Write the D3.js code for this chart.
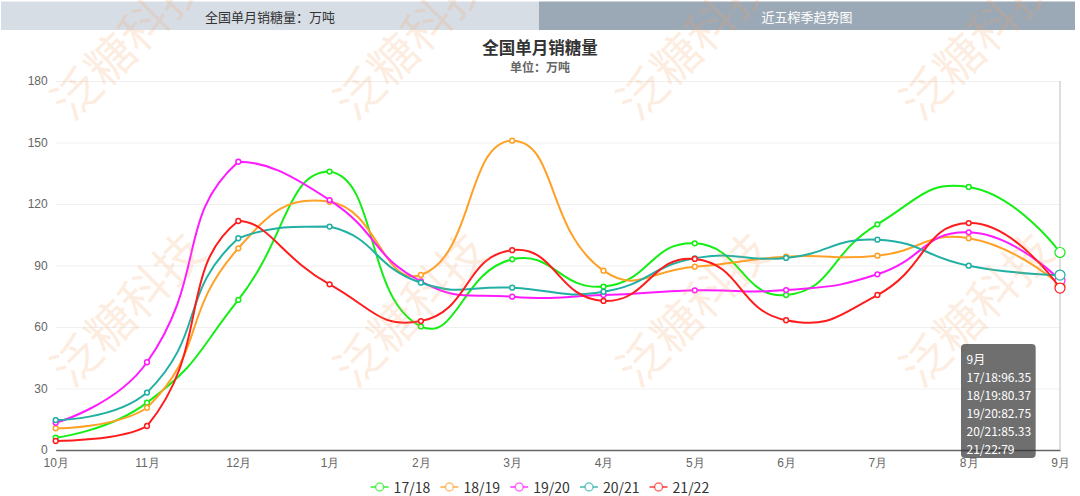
<!DOCTYPE html>
<html lang="zh">
<head>
<meta charset="UTF-8">
<title>全国单月销糖量</title>
<script src="https://d3js.org/d3.v7.min.js"></script>
<style>
  body { margin: 0; background: #fff; }
  svg { display: block; font-family: "Microsoft YaHei", "Noto Sans CJK SC", sans-serif; }
</style>
</head>
<body>
<svg id="chart" width="1080" height="496"></svg>
<script>
// data
const months = ["10月", "11月", "12月", "1月", "2月", "3月", "4月", "5月", "6月", "7月", "8月", "9月"];
const seasons = ["17/18", "18/19", "19/20", "20/21", "21/22"];
const s1718 = [6.0, 23.1, 73.2, 135.8, 60.3, 93.0, 79.7, 100.8, 75.6, 110.1, 128.3, 96.35];
const s1819 = [10.6, 20.6, 98.4, 121.1, 85.4, 150.9, 87.5, 89.4, 94.3, 94.8, 103.3, 80.37];
const s1920 = [13.3, 42.8, 140.6, 121.9, 82.3, 74.8, 75.6, 77.9, 78.0, 85.7, 106.2, 82.75];
const s2021 = [14.6, 28.0, 103.3, 109.0, 81.6, 79.2, 77.2, 93.5, 93.7, 102.6, 89.9, 85.33];
const s2122 = [4.4, 11.7, 111.7, 80.8, 62.9, 97.5, 72.7, 93.2, 63.3, 75.6, 110.7, 79];
const yTicks = [0, 30, 60, 90, 120, 150, 180];
const colors = ["#14ee14", "#ffa126", "#ff1aff", "#21b0a3", "#ff1c1c"];

const series = seasons.map((name, i) => ({ name, color: colors[i], values: [s1718, s1819, s1920, s2021, s2122][i] }));
const hoverIdx = months.length - 1;

const svg = d3.select("#chart");
const W = 1080;

const x = d3.scalePoint().domain(months).range([55.7, 1060]);
const y = d3.scaleLinear().domain([0, 180]).range([450, 81]);

// tabs
const tabs = [
  { label: "全国单月销糖量：万吨", x0: 1, x1: 539, fill: "#d7dde5", color: "#333" },
  { label: "近五榨季趋势图", x0: 539, x1: 1075, fill: "#9ba9b6", color: "#fff" }
];
const tabG = svg.append("g");
tabG.selectAll("rect").data(tabs).join("rect")
  .attr("x", d => d.x0).attr("y", 1.5)
  .attr("width", d => d.x1 - d.x0).attr("height", 28.5)
  .attr("fill", d => d.fill);
tabG.selectAll("text").data(tabs).join("text")
  .attr("x", d => (d.x0 + d.x1) / 2).attr("y", 16)
  .attr("text-anchor", "middle").attr("dominant-baseline", "central")
  .attr("font-size", 13).attr("fill", d => d.color)
  .text(d => d.label);

// title
svg.append("text").attr("x", W / 2).attr("y", 47).attr("text-anchor", "middle")
  .attr("dominant-baseline", "central").attr("font-size", 16.5).attr("font-weight", "bold")
  .attr("fill", "#333").text("全国单月销糖量");
svg.append("text").attr("x", W / 2).attr("y", 66).attr("text-anchor", "middle")
  .attr("dominant-baseline", "central").attr("font-size", 12).attr("font-weight", "bold")
  .attr("fill", "#666").text("单位：万吨");

// grid + y axis
const yAxis = d3.axisLeft(y).tickValues(yTicks).tickSize(-(1060 - 55.7)).tickPadding(8);
const gy = svg.append("g").attr("transform", "translate(55.7,0)").call(yAxis);
gy.select(".domain").remove();
gy.selectAll(".tick line").attr("stroke", "#f0f0f0");
gy.selectAll(".tick text").attr("font-size", 12).attr("fill", "#666")
  .style("font-family", "inherit");

// x axis
const xAxis = d3.axisBottom(x).tickSize(0).tickPadding(8);
const gx = svg.append("g").attr("transform", "translate(0,450)").call(xAxis);
gx.select(".domain").attr("stroke", "#666").attr("stroke-width", 1.3);
gx.selectAll(".tick text").attr("font-size", 12).attr("fill", "#666")
  .style("font-family", "inherit");

// axis pointer at hovered month
svg.append("line")
  .attr("x1", x(months[hoverIdx])).attr("x2", x(months[hoverIdx]))
  .attr("y1", y(180)).attr("y2", y(0))
  .attr("stroke", "#c8c8c8").attr("stroke-width", 1.2);

// echarts-like smooth bezier path
function smoothPath(pts, smooth) {
  const p = d3.path();
  const xMin = d3.min(pts, d => d[0]), xMax = d3.max(pts, d => d[0]);
  const yMin = d3.min(pts, d => d[1]), yMax = d3.max(pts, d => d[1]);
  const clamp = c => [Math.max(xMin, Math.min(xMax, c[0])), Math.max(yMin, Math.min(yMax, c[1]))];
  let cp0 = pts[0].slice();
  p.moveTo(pts[0][0], pts[0][1]);
  for (let i = 1; i < pts.length; i++) {
    const pt = pts[i], prev = pts[i - 1], next = pts[i + 1];
    let cp1, v = [0, 0], ratio = 0.5;
    if (!next) {
      cp1 = pt.slice();
    } else {
      v = [next[0] - prev[0], next[1] - prev[1]];
      const d0 = Math.hypot(pt[0] - prev[0], pt[1] - prev[1]);
      const d1 = Math.hypot(next[0] - pt[0], next[1] - pt[1]);
      ratio = d1 / (d0 + d1);
      cp1 = [pt[0] - v[0] * smooth * (1 - ratio), pt[1] - v[1] * smooth * (1 - ratio)];
    }
    cp0 = clamp(cp0); cp1 = clamp(cp1);
    p.bezierCurveTo(cp0[0], cp0[1], cp1[0], cp1[1], pt[0], pt[1]);
    cp0 = [pt[0] + v[0] * smooth * ratio, pt[1] + v[1] * smooth * ratio];
  }
  return p.toString();
}

const plot = svg.append("g");
series.forEach(s => {
  const pts = s.values.map((v, i) => [x(months[i]), y(v)]);
  const g = plot.append("g");
  g.append("path").attr("d", smoothPath(pts, 0.5))
    .attr("fill", "none").attr("stroke", s.color).attr("stroke-width", 2);
  g.selectAll("circle").data(s.values).join("circle")
    .attr("cx", (d, i) => x(months[i])).attr("cy", d => y(d))
    .attr("r", (d, i) => i === hoverIdx ? 5 : 2.4)
    .attr("fill", "#fff").attr("stroke", s.color)
    .attr("stroke-width", (d, i) => i === hoverIdx ? 1.2 : 1.5);
});

// watermark
const wm = svg.append("g").attr("pointer-events", "none");
[40, 307].forEach(cy => {
  d3.range(4).forEach(k => {
    wm.append("text")
      .attr("transform", `translate(${125 + k * 283},${cy}) rotate(-45)`)
      .attr("text-anchor", "middle").attr("dominant-baseline", "central")
      .attr("font-size", 48).attr("fill", "#f7a060").attr("fill-opacity", 0.2)
      .text("泛糖科技");
  });
});

// legend
const legend = svg.append("g").attr("transform", "translate(0,487)");
const items = legend.selectAll("g").data(series).join("g");
items.append("line").attr("x1", 0).attr("x2", 18).attr("y1", 0).attr("y2", 0)
  .attr("stroke", d => d.color).attr("stroke-width", 2).attr("stroke-opacity", 0.65);
items.append("circle").attr("cx", 9).attr("cy", 0).attr("r", 4)
  .attr("fill", "#fff").attr("stroke", d => d.color).attr("stroke-width", 1.5).attr("stroke-opacity", 0.65);
items.append("text").attr("x", 23).attr("y", 0).attr("dominant-baseline", "central")
  .attr("font-size", 14).attr("fill", "#333").text(d => d.name);
let off = 0;
const widths = [];
items.each(function () { widths.push(this.getBBox().width); });
const totalW = d3.sum(widths) + 10 * (widths.length - 1);
off = W / 2 - totalW / 2;
items.attr("transform", (d, i) => {
  const t = `translate(${off},0)`;
  off += widths[i] + 10;
  return t;
});

// tooltip for hovered month
const tipLines = [months[hoverIdx]].concat(series.map(s => s.name + ":" + s.values[hoverIdx]));
const tip = svg.append("g").attr("transform", `translate(${x(months[hoverIdx]) - 99},344)`);
const tipBg = tip.append("rect").attr("rx", 4).attr("fill", "rgba(50,50,50,0.7)");
const tipText = tip.selectAll("text").data(tipLines).join("text")
  .attr("x", 5.5).attr("y", (d, i) => 14 + i * 18)
  .attr("dominant-baseline", "central")
  .attr("font-size", 12).attr("fill", "#fff").text(d => d);
const tw = d3.max(tipText.nodes(), n => n.getComputedTextLength());
tipBg.attr("width", tw + 10).attr("height", 114);
</script>
</body>
</html>
